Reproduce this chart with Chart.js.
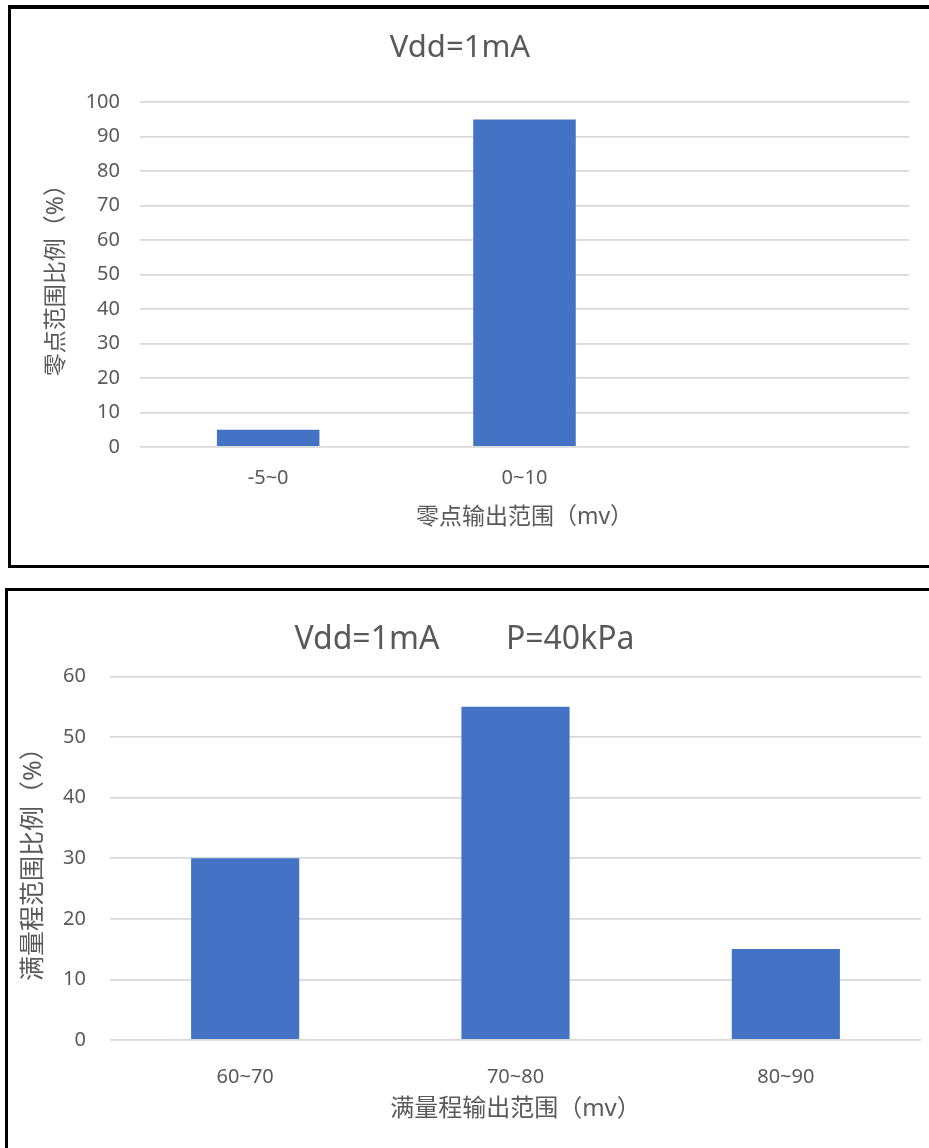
<!DOCTYPE html>
<html lang="zh">
<head>
    <meta charset="UTF-8">
    <title>零点 / 满量程输出范围</title>
    <script src="https://cdn.jsdelivr.net/npm/chart.js"></script>
    <style>
        body {
            margin: 0;
            background: #ffffff;
            overflow: hidden;
            width: 929px;
            height: 1148px;
            position: relative;
        }
        .box {
            position: absolute;
            background: #fff;
            border-style: solid;
            border-color: #000;
        }
        #box1 {
            left: 8px;
            top: 5px;
            width: 1000px;
            height: 556px;
            border-width: 4px 0 3px 3px;
        }
        #box2 {
            left: 5px;
            top: 588px;
            width: 1000px;
            height: 600px;
            border-width: 3px 0 0 3px;
        }
        canvas {
            position: absolute;
            left: 0;
            top: 0;
        }
    </style>
</head>
<body>
    <div class="box" id="box1"><canvas id="chart1" width="918" height="556"></canvas></div>
    <div class="box" id="box2"><canvas id="chart2" width="921" height="557"></canvas></div>

    <script>
        // 数据
        const zeroLabels = ['-5~0', '0~10', ''];
        const zeroValues = [5, 95, null];

        const fullLabels = ['60~70', '70~80', '80~90'];
        const fullValues = [30, 55, 15];

        const barColor = '#4472C4';
        const textColor = '#595959';
        const gridColor = '#D9D9D9';
        const fontFamily = '"Noto Sans", "Noto Sans CJK SC", sans-serif';

        function makeChart(canvasId, cfg) {
            return new Chart(document.getElementById(canvasId).getContext('2d'), {
                type: 'bar',
                data: {
                    labels: cfg.labels,
                    datasets: [{
                        data: cfg.values,
                        backgroundColor: barColor,
                        borderWidth: 0,
                        categoryPercentage: 1,
                        barPercentage: 0.4
                    }]
                },
                options: {
                    responsive: false,
                    animation: false,
                    devicePixelRatio: 1,
                    layout: { padding: { left: 0, right: cfg.padRight, top: 0, bottom: 0 } },
                    plugins: {
                        legend: { display: false },
                        tooltip: { enabled: false },
                        title: {
                            display: true,
                            text: cfg.title,
                            color: textColor,
                            font: { family: fontFamily, size: cfg.titleSize, weight: 'normal' },
                            padding: cfg.titlePad
                        }
                    },
                    scales: {
                        x: {
                            grid: { display: false, drawTicks: false },
                            border: { display: false },
                            ticks: {
                                color: textColor,
                                padding: cfg.xTickPad,
                                font: { family: fontFamily, size: 20 }
                            },
                            title: {
                                display: true,
                                text: cfg.xTitle,
                                color: textColor,
                                font: { family: fontFamily, size: cfg.xTitleSize },
                                padding: { top: 0, bottom: cfg.xTitlePad }
                            },
                            afterFit: s => { s.height = cfg.xHeight; }
                        },
                        y: {
                            min: 0,
                            max: cfg.yMax,
                            grid: { color: gridColor, lineWidth: 1.8, drawTicks: false },
                            border: { display: false },
                            ticks: {
                                stepSize: 10,
                                color: textColor,
                                padding: cfg.yTickPad,
                                font: { family: fontFamily, size: 20 }
                            },
                            title: {
                                display: true,
                                text: cfg.yTitle,
                                color: textColor,
                                font: { family: fontFamily, size: cfg.yTitleSize },
                                padding: { top: cfg.yTitlePad, bottom: 0 }
                            },
                            afterFit: s => { s.width = cfg.yWidth; }
                        }
                    }
                }
            });
        }

        makeChart('chart1', {
            labels: zeroLabels,
            values: zeroValues,
            title: 'Vdd=1mA',
            titleSize: 31,
            titlePad: { top: 21, bottom: 35 },
            padRight: 20,
            xTitle: '零点输出范围（mv）',
            xTitleSize: 23,
            xTitlePad: 34,
            xTickPad: 19,
            xHeight: 118,
            yTitle: '零点范围比例（%）',
            yTitleSize: 23,
            yTitlePad: 32,
            yTickPad: 20,
            yWidth: 129,
            yMax: 100
        });

        makeChart('chart2', {
            labels: fullLabels,
            values: fullValues,
            title: 'Vdd=1mA        P=40kPa',
            titleSize: 32,
            titlePad: { top: 30, bottom: 17 },
            padRight: 8,
            xTitle: '满量程输出范围（mv）',
            xTitleSize: 24,
            xTitlePad: 24,
            xTickPad: 25,
            xHeight: 108,
            yTitle: '满量程范围比例（%）',
            yTitleSize: 25,
            yTitlePad: 11,
            yTickPad: 24,
            yWidth: 102,
            yMax: 60
        });
    </script>
</body>
</html>
